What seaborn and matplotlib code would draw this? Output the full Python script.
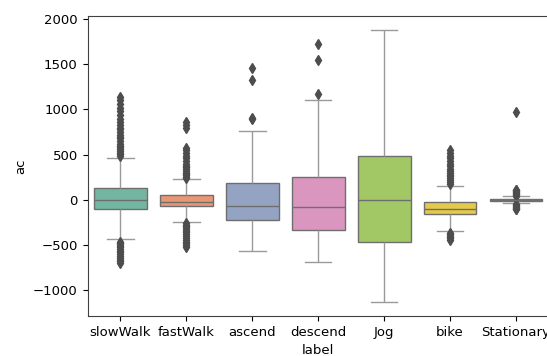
import matplotlib
matplotlib.use("Agg")
import matplotlib.pyplot as plt
import seaborn as sns
import pandas as pd

categories = ["slowWalk", "fastWalk", "ascend", "descend", "Jog", "bike", "Stationary"]
q1 = [-100, -65, -221, -332, -461, -158, -10]
median = [0, -18, -63, -81, -5, -96, 0]
q3 = [128, 55, 192, 255, 487, -26, 10]
whisker_low = [-432, -240, -568, -690, -1133, -340, -35]
whisker_high = [465, 228, 760, 1107, 1883, 150, 38]

out_slowWalk = [-460, -475, -490, -505, -520, -540, -560, -580, -600, -620, -640, -660, -680, -700,
                490, 505, 520, 540, 560, 580, 600, 620, 650, 680, 700, 720, 750, 780, 800, 830,
                860, 900, 940, 980, 1020, 1060, 1100, 1140]
out_fastWalk = [-260, -275, -290, -305, -320, -340, -360, -380, -400, -420, -440, -460, -480, -500, -520,
                240, 255, 270, 285, 300, 320, 340, 360, 380, 400, 430, 460, 490, 520, 550, 575,
                790, 830, 860]
out_ascend = [890, 910, 1329, 1458]
out_descend = [1170, 1550, 1724]
out_Jog = []
out_bike = [-365, -380, -395, -410, -425, -440,
            180, 200, 220, 240, 260, 280, 300, 320, 340, 370, 400, 430, 460, 490, 520, 555]
out_Stationary = [-45, -55, -65, -75, -85, -95, -105,
                  45, 55, 65, 75, 85, 95, 105, 115, 967]
outliers = [out_slowWalk, out_fastWalk, out_ascend, out_descend, out_Jog, out_bike, out_Stationary]

# Build raw samples whose box statistics reproduce the read values
rows = []
for i, cat in enumerate(categories):
    vals = list(outliers[i]) + [whisker_low[i], whisker_high[i]]
    vals += [q1[i]] * 100 + [median[i]] * 100 + [q3[i]] * 100
    rows += [(cat, v) for v in vals]
df = pd.DataFrame(rows, columns=["label", "ac"])

plt.rcParams["font.family"] = ["DejaVu Sans"]
plt.rcParams["font.size"] = 9.5

fig = plt.figure(figsize=(5.47, 3.56), dpi=100)
ax = fig.add_axes([87.5 / 547, 40 / 356, (549 - 87.5) / 547, 300 / 356])
sns.boxplot(data=df, x="label", y="ac", hue="label", palette="Set2", order=categories,
            legend=False, ax=ax, saturation=0.75, linecolor="#6e6e6e", linewidth=1.0,
            whiskerprops=dict(color="#9a9a9a"), capprops=dict(color="#9a9a9a"),
            flierprops=dict(marker="d", markerfacecolor="0.3", markeredgecolor="0.3", markersize=5.5))
for sp in ax.spines.values():
    sp.set_color("0.25")
ax.set_xlabel("label")
ax.set_ylabel("ac")
fig.savefig("out.png", dpi=100)
